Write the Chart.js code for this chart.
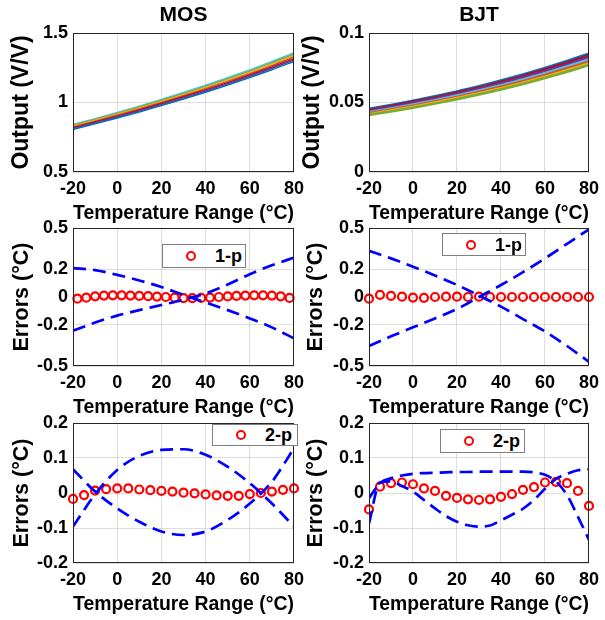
<!DOCTYPE html>
<html>
<head>
<meta charset="utf-8">
<script src="https://cdn.jsdelivr.net/npm/chart.js@4.4.1/dist/chart.umd.min.js"></script>
<style>
  html, body { margin: 0; padding: 0; background: #fff; }
  body { width: 605px; height: 620px; position: relative; overflow: hidden; font-family: 'Liberation Sans', Arial, sans-serif; }
  canvas { position: absolute; }
  .lg { position: absolute; background: #fff; border: 1px solid #808080; box-sizing: border-box; }
  .lg .mk { position: absolute; width: 10px; height: 10px; border: 2.2px solid #ff0000; border-radius: 50%; box-sizing: border-box; top: 50%; transform: translate(-50%, -50%); }
  .lg .tx { position: absolute; top: 50%; transform: translateY(-50%); font: bold 18px 'Liberation Sans', Arial, sans-serif; color: #000; line-height: 1; }
</style>
</head>
<body>
<canvas id="c1" width="310" height="227" style="left:0;top:0"></canvas>
<canvas id="c2" width="307" height="227" style="left:298px;top:0"></canvas>
<canvas id="c3" width="310" height="213" style="left:0;top:208px"></canvas>
<canvas id="c4" width="307" height="213" style="left:298px;top:208px"></canvas>
<canvas id="c5" width="310" height="215" style="left:0;top:403px"></canvas>
<canvas id="c6" width="307" height="215" style="left:298px;top:403px"></canvas>
<script>
// ---------- data ----------
const temps11 = [-20, -10, 0, 10, 20, 30, 40, 50, 60, 70, 80];
const temps21 = [-20, -15, -10, -5, 0, 5, 10, 15, 20, 25, 30, 35, 40, 45, 50, 55, 60, 65, 70, 75, 80];
const temps25 = [-18, -14, -10, -6, -2, 2, 6, 10, 14, 18, 22, 26, 30, 34, 38, 42, 46, 50, 54, 58, 62, 66, 70, 74, 78];

const xTicks = [-20, 0, 20, 40, 60, 80];
const mosOutTicks = [0.5, 1, 1.5];
const bjtOutTicks = [0, 0.05, 0.1];
const err1Ticks = [-0.5, -0.2, 0, 0.2, 0.5];
const err2Ticks = [-0.2, -0.1, 0, 0.1, 0.2];

const columnTitles = ['MOS', 'BJT'];
const xTitle = 'Temperature Range (°C)';
const outTitle = 'Output (V/V)';
const errTitle = 'Errors (°C)';
const legend1 = '1-p';
const legend2 = '2-p';

// MOS output curves (top to bottom)
const mosOut1 = [0.842, 0.884, 0.928, 0.974, 1.022, 1.072, 1.124, 1.178, 1.235, 1.295, 1.358];
const mosOut2 = [0.836, 0.878, 0.921, 0.967, 1.015, 1.064, 1.116, 1.170, 1.226, 1.285, 1.348];
const mosOut3 = [0.830, 0.872, 0.915, 0.960, 1.007, 1.056, 1.107, 1.160, 1.216, 1.275, 1.337];
const mosOut4 = [0.824, 0.865, 0.908, 0.953, 1.000, 1.049, 1.099, 1.152, 1.207, 1.265, 1.327];
const mosOut5 = [0.818, 0.859, 0.902, 0.946, 0.993, 1.041, 1.091, 1.143, 1.198, 1.255, 1.316];
const mosOut6 = [0.812, 0.853, 0.895, 0.939, 0.985, 1.033, 1.083, 1.135, 1.189, 1.246, 1.306];
const mosOut7 = [0.806, 0.847, 0.889, 0.932, 0.978, 1.025, 1.074, 1.126, 1.180, 1.236, 1.296];

// BJT output curves (top to bottom)
const bjtOut1 = [0.0455, 0.0483, 0.0513, 0.0545, 0.0580, 0.0617, 0.0658, 0.0702, 0.0749, 0.0799, 0.0852];
const bjtOut2 = [0.0445, 0.0473, 0.0503, 0.0535, 0.0570, 0.0607, 0.0647, 0.0690, 0.0737, 0.0786, 0.0838];
const bjtOut3 = [0.0438, 0.0466, 0.0495, 0.0527, 0.0561, 0.0598, 0.0637, 0.0680, 0.0726, 0.0774, 0.0826];
const bjtOut4 = [0.0430, 0.0457, 0.0486, 0.0517, 0.0550, 0.0586, 0.0625, 0.0666, 0.0711, 0.0759, 0.0810];
const bjtOut5 = [0.0422, 0.0449, 0.0477, 0.0507, 0.0540, 0.0575, 0.0613, 0.0654, 0.0698, 0.0745, 0.0795];
const bjtOut6 = [0.0416, 0.0442, 0.0470, 0.0500, 0.0532, 0.0566, 0.0603, 0.0643, 0.0686, 0.0732, 0.0781];
const bjtOut7 = [0.0410, 0.0436, 0.0463, 0.0492, 0.0524, 0.0558, 0.0594, 0.0633, 0.0676, 0.0721, 0.0770];

// MOS 1-point calibration
const mos1pErr = [-0.012, -0.005, 0.005, 0.010, 0.012, 0.012, 0.010, 0.008, 0.006, 0.003, 0.000, -0.005, -0.008,
                  -0.008, -0.007, -0.004, 0.000, 0.004, 0.008, 0.010, 0.012, 0.012, 0.010, 0.005, -0.007];
const mos1pBoundA = [0.210, 0.195, 0.160, 0.120, 0.072, 0.015, -0.040, -0.095, -0.155, -0.220, -0.300];
const mos1pBoundB = [-0.245, -0.185, -0.135, -0.095, -0.058, -0.020, 0.025, 0.090, 0.165, 0.230, 0.285];

// BJT 1-point calibration
const bjt1pErr = [-0.012, 0.015, 0.008, 0.002, -0.004, -0.006, 0.000, 0.002, 0.002, 0.000, 0.002,
                  0.000, 0.000, 0.000, 0.000, 0.000, 0.000, 0.000, 0.000, 0.000, 0.000];
const bjt1pBoundA = [0.335, 0.280, 0.220, 0.155, 0.087, 0.010, -0.070, -0.160, -0.250, -0.355, -0.470];
const bjt1pBoundB = [-0.355, -0.285, -0.220, -0.155, -0.087, 0.000, 0.087, 0.180, 0.280, 0.385, 0.490];

// MOS 2-point calibration
const mos2pErr = [-0.017, -0.006, 0.007, 0.011, 0.013, 0.013, 0.010, 0.008, 0.006, 0.004, 0.001,
                  -0.001, -0.004, -0.007, -0.008, -0.008, -0.003, 0.000, 0.004, 0.009, 0.013];
const mos2pBoundA = [-0.096, -0.004, 0.066, 0.106, 0.123, 0.125, 0.109, 0.075, 0.028, -0.030, -0.096];
const mos2pBoundB = [0.068, 0.004, -0.044, -0.082, -0.110, -0.120, -0.110, -0.077, -0.030, 0.032, 0.128];

// BJT 2-point calibration
const bjt2pErr = [-0.047, 0.018, 0.028, 0.030, 0.025, 0.013, 0.006, -0.008, -0.014, -0.018, -0.020,
                  -0.018, -0.011, -0.003, 0.009, 0.017, 0.030, 0.032, 0.028, 0.006, -0.037];
const bjt2pBoundA = [-0.015, 0.028, 0.042, 0.050, 0.055, 0.057, 0.058, 0.059, 0.060, 0.060, 0.061,
                     0.061, 0.061, 0.061, 0.061, 0.059, 0.052, 0.033, -0.006, -0.068, -0.134];
const bjt2pBoundB = [-0.087, 0.030, 0.033, 0.020, 0.004, -0.020, -0.044, -0.066, -0.082, -0.092, -0.096,
                     -0.093, -0.078, -0.062, -0.045, -0.020, 0.012, 0.040, 0.055, 0.065, 0.068];

// ---------- helpers ----------
const C_BLUE = '#0072BD', C_ORANGE = '#D95319', C_YELLOW = '#EDB120', C_PURPLE = '#7E2F8E',
      C_GREEN = '#77AC30', C_CYAN = '#4DBEEE', C_DARKRED = '#A2142F';
const FONT = "'Liberation Sans', Arial, Helvetica, sans-serif";
Chart.defaults.font.family = FONT;
Chart.defaults.color = '#000';

function pts(xs, ys) { return xs.map((x, i) => ({ x: x, y: ys[i] })); }

function curve(xs, ys, color, width) {
  return { data: pts(xs, ys), showLine: true, borderColor: color, backgroundColor: color,
           borderWidth: width, pointRadius: 0, cubicInterpolationMode: 'monotone', order: 2 };
}
function dashed(xs, ys) {
  return { data: pts(xs, ys), showLine: true, borderColor: '#0000ff', backgroundColor: '#0000ff',
           borderWidth: 2.7, borderDash: [13, 7], pointRadius: 0, cubicInterpolationMode: 'monotone', order: 0 };
}
function circles(xs, ys, label) {
  return { label: label, data: pts(xs, ys), showLine: false, borderColor: '#ff0000', backgroundColor: 'rgba(0,0,0,0)',
           pointRadius: 4, pointBorderWidth: 2.2, pointStyle: 'circle', clip: false, order: 1 };
}

const boxPlugin = {
  id: 'box',
  afterDatasetsDraw(chart) {
    const a = chart.chartArea, ctx = chart.ctx;
    ctx.save();
    ctx.strokeStyle = '#262626';
    ctx.lineWidth = 1;
    ctx.strokeRect(Math.round(a.left) + 0.5, Math.round(a.top) + 0.5,
                   Math.round(a.right - a.left) - 1, Math.round(a.bottom - a.top) - 1);
    ctx.restore();
  }
};

const GRID = 'rgba(0,0,0,0.13)';

function makeChart(id, o) {
  return new Chart(document.getElementById(id), {
    type: 'scatter',
    data: { datasets: o.datasets },
    options: {
      responsive: false, animation: false, devicePixelRatio: 1, events: [],
      layout: { padding: { top: o.padTop, right: o.padRight, left: 0, bottom: 0 } },
      plugins: {
        legend: { display: false },
        tooltip: { enabled: false },
        title: o.title ? { display: true, text: o.title, fullSize: false, color: '#000',
                           font: { size: 21, weight: 'bold', family: FONT, lineHeight: 1.2 },
                           padding: { top: 2.4, bottom: 5.4 } } : { display: false }
      },
      scales: {
        x: {
          type: 'linear', min: -20, max: 80,
          afterBuildTicks: s => { s.ticks = xTicks.map(v => ({ value: v })); },
          afterFit: s => { s.height = 55; },
          grid: { color: GRID, drawTicks: false },
          border: { display: false },
          ticks: { padding: 6, autoSkip: false, maxRotation: 0, color: '#000',
                   font: { size: 18, weight: 'bold', family: FONT, lineHeight: 1.2 },
                   callback: v => String(v) },
          title: { display: true, text: xTitle, color: '#000',
                   font: { size: 21, weight: 'bold', family: FONT, lineHeight: 1.2 },
                   padding: { top: 0, bottom: 0.9 } }
        },
        y: {
          type: 'linear', min: o.ymin, max: o.ymax,
          afterBuildTicks: s => { s.ticks = o.yTicks.map(v => ({ value: v })); },
          afterFit: s => { s.width = o.yWidth; },
          grid: { color: GRID, drawTicks: false },
          border: { display: false },
          ticks: { padding: 5, autoSkip: false, color: '#000',
                   font: { size: 18, weight: 'bold', family: FONT, lineHeight: 1.2 },
                   callback: v => String(v) },
          title: { display: true, text: o.yTitle, color: '#000',
                   font: { size: o.yTitleSize, weight: 'bold', family: FONT, lineHeight: 1.2 },
                   padding: { top: o.yTitlePad, bottom: 0 } }
        }
      }
    },
    plugins: [boxPlugin]
  });
}

// ---------- charts ----------
makeChart('c1', {
  title: columnTitles[0], padTop: 0, padRight: 12, yWidth: 73, yTitlePad: 8.2, yTitleSize: 23,
  ymin: 0.5, ymax: 1.5, yTicks: mosOutTicks, yTitle: outTitle,
  datasets: [
    curve(temps11, mosOut7, C_BLUE, 1.5),
    curve(temps11, mosOut6, C_PURPLE, 1.5),
    curve(temps11, mosOut5, C_DARKRED, 1.5),
    curve(temps11, mosOut4, C_ORANGE, 1.5),
    curve(temps11, mosOut3, C_YELLOW, 1.5),
    curve(temps11, mosOut2, C_GREEN, 1.5),
    curve(temps11, mosOut1, C_CYAN, 1.5)
  ]
});

makeChart('c2', {
  title: columnTitles[1], padTop: 0, padRight: 12, yWidth: 71, yTitlePad: 1.2, yTitleSize: 23,
  ymin: 0, ymax: 0.1, yTicks: bjtOutTicks, yTitle: outTitle,
  datasets: [
    curve(temps11, bjtOut7, C_GREEN, 2.5),
    curve(temps11, bjtOut6, C_YELLOW, 2.5),
    curve(temps11, bjtOut5, C_ORANGE, 2.5),
    curve(temps11, bjtOut4, C_CYAN, 2.5),
    curve(temps11, bjtOut3, C_PURPLE, 2.5),
    curve(temps11, bjtOut2, C_DARKRED, 3),
    curve(temps11, bjtOut1, C_BLUE, 2.5)
  ]
});

const ch3 = makeChart('c3', {
  padTop: 20, padRight: 12, yWidth: 73, yTitlePad: 9.1, yTitleSize: 21.5,
  ymin: -0.5, ymax: 0.5, yTicks: err1Ticks, yTitle: errTitle,
  datasets: [ circles(temps25, mos1pErr, legend1), dashed(temps11, mos1pBoundA), dashed(temps11, mos1pBoundB) ]
});

const ch4 = makeChart('c4', {
  padTop: 20, padRight: 12, yWidth: 71, yTitlePad: 5.1, yTitleSize: 21.5,
  ymin: -0.5, ymax: 0.5, yTicks: err1Ticks, yTitle: errTitle,
  datasets: [ circles(temps21, bjt1pErr, legend1), dashed(temps11, bjt1pBoundA), dashed(temps11, bjt1pBoundB) ]
});

const ch5 = makeChart('c5', {
  padTop: 20, padRight: 12, yWidth: 73, yTitlePad: 9.1, yTitleSize: 21.5,
  ymin: -0.2, ymax: 0.2, yTicks: err2Ticks, yTitle: errTitle,
  datasets: [ circles(temps21, mos2pErr, legend2), dashed(temps11, mos2pBoundA), dashed(temps11, mos2pBoundB) ]
});

const ch6 = makeChart('c6', {
  padTop: 20, padRight: 12, yWidth: 71, yTitlePad: 5.1, yTitleSize: 21.5,
  ymin: -0.2, ymax: 0.2, yTicks: err2Ticks, yTitle: errTitle,
  datasets: [ circles(temps21, bjt2pErr, legend2), dashed(temps21, bjt2pBoundA), dashed(temps21, bjt2pBoundB) ]
});

// ---------- legends (inside the axes, as in the reference) ----------
function addLegend(chart, box) {
  const ds = chart.data.datasets.find(d => d.label);
  const div = document.createElement('div');
  div.className = 'lg';
  div.style.left = box.left + 'px'; div.style.top = box.top + 'px';
  div.style.width = box.width + 'px'; div.style.height = box.height + 'px';
  const mk = document.createElement('span'); mk.className = 'mk'; mk.style.left = '28px';
  const tx = document.createElement('span'); tx.className = 'tx'; tx.style.left = '52px';
  tx.textContent = ds.label;
  div.appendChild(mk); div.appendChild(tx);
  document.body.appendChild(div);
}
addLegend(ch3, { left: 162, top: 244, width: 84, height: 24 });
addLegend(ch4, { left: 442, top: 233, width: 84, height: 23 });
addLegend(ch5, { left: 212, top: 424, width: 86, height: 22 });
addLegend(ch6, { left: 440, top: 429, width: 85, height: 24 });
</script>
</body>
</html>
